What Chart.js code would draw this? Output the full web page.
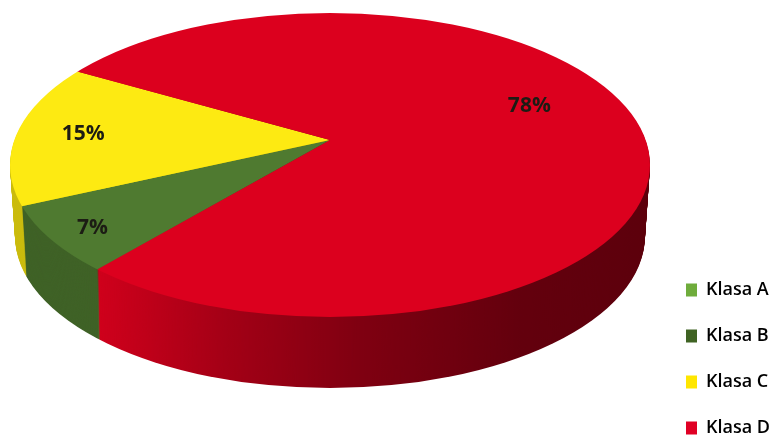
<!DOCTYPE html>
<html>
<head>
<meta charset="utf-8">
<style>
  html, body { margin: 0; padding: 0; background: #fff; }
  #wrap { position: relative; width: 774px; height: 436px; overflow: hidden; }
</style>
<script src="https://cdn.jsdelivr.net/npm/chart.js@4/dist/chart.umd.js"></script>
</head>
<body>
<div id="wrap"><canvas id="myChart" width="774" height="436"></canvas></div>
<script>
var categories = ["Klasa A", "Klasa B", "Klasa C", "Klasa D"];
var shares = [0, 7, 15, 78];
var sliceColors = ["#6fac3c", "#4f7a30", "#fdea12", "#dc001e"];
var legendColors = ["#6fac3c", "#3f6323", "#ffe600", "#e00024"];

// how far out (px, before the tilt) each percent label sits, and its turn off the slice middle
var labelRadius = [0, 301, 247, 212];
var labelTurn = [0, -1, 0, -10];

// the disc is tilted: top face ellipse, wall height, and the slices' apex which sits off centre
var tilt = 0.475;
var top3d = { x: 330, y: 165, rx: 320, ry: 152 };
var wallHeight = 71;
var wallShrink = 5;
var apex = { x: 330, y: 140 };

var toDisc = (chart, ctx, shift) => {
    let arc = chart.getDatasetMeta(0).data[0];
    // radius has to reach past the far edge of the ellipse, the clip cuts it back
    let k = 380 / arc.outerRadius;
    ctx.translate(apex.x, apex.y + shift);
    ctx.scale(k, k * tilt);
    ctx.translate(-arc.x, -arc.y);
}

var clipEllipse = (ctx, shift) => {
    let rx = top3d.rx - wallShrink * shift / wallHeight;
    ctx.beginPath();
    ctx.ellipse(top3d.x, top3d.y + shift, rx, top3d.ry, 0, 0, Math.PI * 2);
    ctx.clip();
}

var disc3d = {
    id: "disc3d",
    afterLayout: (chart) => {
        let legend = chart.legend;
        let pad = chart.options.plugins.legend.labels.padding;
        legend.left = 686 - pad;
        legend.right = 800;
        legend.top = 281 - pad;
        legend.bottom = 560;
    },
    beforeDatasetsDraw: (chart) => {
        let ctx = chart.ctx;
        let arcs = chart.getDatasetMeta(0).data;
        for (let shift = wallHeight; shift >= 1; shift--) {
            ctx.save();
            clipEllipse(ctx, shift);
            toDisc(chart, ctx, shift);
            for (let i = 0; i < arcs.length; i++) {
                arcs[i].draw(ctx);
            }
            ctx.restore();
        }
        // shade the wall, darker to the right (green part keeps its own flat shade)
        ctx.save();
        ctx.beginPath();
        ctx.rect(0, 0, 662, 436);
        ctx.clip();
        ctx.globalCompositeOperation = "source-atop";
        let shade = ctx.createLinearGradient(0, 0, 650, 0);
        shade.addColorStop(0, "rgba(0,0,0,0.2)");
        shade.addColorStop(0.15, "rgba(0,0,0,0.2)");
        shade.addColorStop(0.153, "rgba(0,0,0,0.06)");
        shade.addColorStop(0.35, "rgba(0,0,0,0.26)");
        shade.addColorStop(0.55, "rgba(0,0,0,0.42)");
        shade.addColorStop(0.8, "rgba(0,0,0,0.55)");
        shade.addColorStop(1, "rgba(0,0,0,0.58)");
        ctx.fillStyle = shade;
        ctx.fillRect(0, 0, 662, 436);
        ctx.restore();

        ctx.save();
        clipEllipse(ctx, 0);
        toDisc(chart, ctx, 0);
    },
    afterDatasetsDraw: (chart) => {
        let ctx = chart.ctx;
        ctx.restore();
        let arcs = chart.getDatasetMeta(0).data;
        ctx.save();
        ctx.font = "bold 21px 'Open Sans'";
        ctx.fillStyle = "#1c1c14";
        ctx.textAlign = "center";
        ctx.textBaseline = "middle";
        for (let i = 0; i < arcs.length; i++) {
            if (shares[i] == 0) {
                continue;
            }
            let mid = (arcs[i].startAngle + arcs[i].endAngle) / 2 + labelTurn[i] * Math.PI / 180;
            let x = apex.x + labelRadius[i] * Math.cos(mid);
            let y = apex.y + labelRadius[i] * Math.sin(mid) * tilt;
            ctx.fillText(shares[i] + "%", x, y);
        }
        ctx.restore();
    }
};

var chart = new Chart(document.getElementById("myChart").getContext("2d"), {
    type: "pie",
    data: {
        labels: categories,
        datasets: [{
            data: shares,
            backgroundColor: sliceColors,
            borderWidth: 0,
            clip: false
        }]
    },
    options: {
        responsive: false,
        animation: false,
        rotation: 220.5,
        plugins: {
            tooltip: { enabled: false },
            legend: {
                position: "right",
                align: "start",
                labels: {
                    boxWidth: 11,
                    boxHeight: 13,
                    padding: 28,
                    color: "#22262c",
                    font: { family: "'Open Sans'", size: 18, weight: "600" },
                    generateLabels: (c) => categories.map((name, i) => ({
                        text: name,
                        fillStyle: legendColors[i],
                        strokeStyle: legendColors[i],
                        lineWidth: 0,
                        hidden: false,
                        index: i
                    }))
                }
            }
        }
    },
    plugins: [disc3d]
});
</script>
</body>
</html>
